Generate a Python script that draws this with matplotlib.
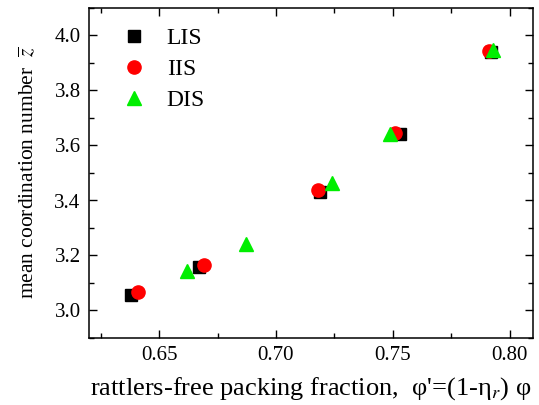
import matplotlib
matplotlib.use('Agg')
from matplotlib import pyplot as plt
from matplotlib.ticker import MultipleLocator

plt.rcParams['font.family'] = ['Liberation Serif', 'DejaVu Serif']
plt.rcParams['mathtext.fontset'] = 'stix'

# data
lis_x = [0.638, 0.667, 0.719, 0.753, 0.792]
lis_z = [3.055, 3.158, 3.430, 3.642, 3.940]

iis_x = [0.641, 0.669, 0.718, 0.751, 0.791]
iis_z = [3.068, 3.165, 3.437, 3.645, 3.945]

dis_x = [0.662, 0.687, 0.724, 0.749, 0.793]
dis_z = [3.142, 3.242, 3.462, 3.640, 3.948]

fig = plt.figure(figsize=(5.39, 4.05), dpi=100)
ax = fig.add_axes([89 / 539, 1 - 338 / 405, (533 - 89) / 539, (338 - 8) / 405])

ax.plot(lis_x, lis_z, 's', color='black', markersize=8.5, linestyle='none', label='LIS')
ax.plot(iis_x, iis_z, 'o', color='red', markersize=9.5, linestyle='none', label='IIS')
ax.plot(dis_x, dis_z, '^', color='#00ee00', markersize=10.5, linestyle='none', label='DIS')

ax.set_xlim(0.62, 0.81)
ax.set_ylim(2.9, 4.1)
ax.xaxis.set_minor_locator(MultipleLocator(0.025))
ax.yaxis.set_minor_locator(MultipleLocator(0.1))
ax.set_xticks([0.65, 0.70, 0.75, 0.80])
ax.set_xticklabels(['0.65', '0.70', '0.75', '0.80'])
ax.set_yticks([3.0, 3.2, 3.4, 3.6, 3.8, 4.0])
ax.set_yticklabels(['3.0', '3.2', '3.4', '3.6', '3.8', '4.0'])

ax.tick_params(which='both', direction='in', top=True, right=True, labelsize=15)
ax.tick_params(which='major', length=6, width=1, pad=6)
ax.tick_params(which='minor', length=3.5, width=1)
for s in ax.spines.values():
    s.set_linewidth(1.1)

ax.set_xlabel("rattlers-free packing fraction,  \u03c6'=(1-\u03b7$_{r}$) \u03c6", fontsize=19, labelpad=7)
ax.set_ylabel(r'mean coordination number  $\overline{z}$', fontsize=15.5, labelpad=12)

ax.legend(loc='upper left', frameon=False, fontsize=17, handletextpad=0.4,
          labelspacing=0.4, borderaxespad=0.3, bbox_to_anchor=(0.01, 0.99))

fig.savefig('out.png', dpi=100)
